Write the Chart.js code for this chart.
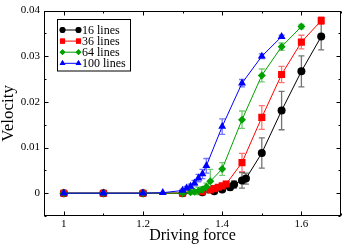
<!DOCTYPE html>
<html><head><meta charset="utf-8">
<script src="https://cdn.jsdelivr.net/npm/chart.js@4/dist/chart.umd.min.js"></script>
<style>html,body{margin:0;padding:0;background:#fff}</style>
</head><body><canvas id="c" width="346" height="247"></canvas>
<script>
// ---- data ----
const seriesNames = ['16 lines', '36 lines', '64 lines', '100 lines'];

const force16    = [1.0, 1.1, 1.2, 1.3, 1.35, 1.38, 1.40, 1.42, 1.43, 1.45, 1.46, 1.50, 1.55, 1.60, 1.65];
const velocity16 = [0, 0, 0, 0, 0.0002, 0.0004, 0.0008, 0.0013, 0.0019, 0.0028, 0.0032, 0.0088, 0.0181, 0.0267, 0.0343];
const error16    = [0, 0, 0, 0, 0.0002, 0.0003, 0.0004, 0.0006, 0.0008, 0.0017, 0.0012, 0.0033, 0.0042, 0.0034, 0.0029];

const force36    = [1.0, 1.1, 1.2, 1.3, 1.35, 1.37, 1.38, 1.39, 1.40, 1.41, 1.45, 1.50, 1.55, 1.60, 1.65];
const velocity36 = [0, 0, 0, 0, 0.0003, 0.0007, 0.0010, 0.0013, 0.0016, 0.0020, 0.0067, 0.0166, 0.0260, 0.0331, 0.0378];
const error36    = [0, 0, 0, 0, 0.0002, 0.0004, 0.0004, 0.0005, 0.0005, 0.0006, 0.0020, 0.0026, 0.0018, 0.0015, 0.0008];

const force64    = [1.0, 1.1, 1.2, 1.3, 1.32, 1.33, 1.34, 1.35, 1.36, 1.37, 1.40, 1.45, 1.50, 1.55, 1.60];
const velocity64 = [0, 0, 0, 0, 0.0002, 0.0003, 0.0005, 0.0008, 0.0014, 0.0026, 0.0053, 0.0161, 0.0258, 0.0321, 0.0365];
const error64    = [0, 0, 0, 0, 0.0003, 0.0005, 0.0008, 0.0006, 0.0008, 0.0026, 0.0014, 0.0019, 0.0014, 0.0008, 0.0005];

const force100    = [1.0, 1.1, 1.2, 1.25, 1.30, 1.31, 1.32, 1.33, 1.34, 1.35, 1.36, 1.40, 1.45, 1.50, 1.55];
const velocity100 = [0, 0, 0, 0.0001, 0.0006, 0.0011, 0.0015, 0.0022, 0.0033, 0.0042, 0.0060, 0.0146, 0.0241, 0.0300, 0.0343];
const error100    = [0, 0, 0, 0, 0.0003, 0.0004, 0.0005, 0.0006, 0.0008, 0.0010, 0.0016, 0.0017, 0.0008, 0.0005, 0.0003];

const xTickLabels = [1, 1.2, 1.4, 1.6];
const xMinorTicks = [1.1, 1.3, 1.5, 1.7];
const yTickLabels = [0, 0.01, 0.02, 0.03, 0.04];
const yMinorTicks = [-0.005, 0.005, 0.015, 0.025, 0.035];

// ---- styling ----
const SERIF = "'Liberation Serif', 'Times New Roman', serif";
const colors = ['#000000', '#ff0000', '#00a000', '#0000ff'];
const errColors = ['rgba(0,0,0,0.55)', 'rgba(255,0,0,0.55)', 'rgba(0,160,0,0.55)', 'rgba(0,0,255,0.55)'];
const shapes = ['circle', 'rect', 'rectRot', 'triangle'];
const radii = [4, 5, 4, 4.6];

const forces = [force16, force36, force64, force100];
const velocities = [velocity16, velocity36, velocity64, velocity100];
const errors = [error16, error36, error64, error100];

const datasets = seriesNames.map((name, i) => ({
  label: name,
  data: forces[i].map((f, j) => ({x: f, y: velocities[i][j]})),
  errors: errors[i],
  borderColor: colors[i],
  backgroundColor: colors[i],
  pointBackgroundColor: colors[i],
  pointBorderColor: colors[i],
  pointStyle: shapes[i],
  pointRadius: radii[i],
  pointBorderWidth: 0,
  borderWidth: 1,
  showLine: true,
  tension: 0,
  order: 4 - i,
  errColor: errColors[i]
}));

const errorBars = {
  id: 'errorBars',
  beforeDatasetsDraw(chart) {
    const {ctx, scales: {x, y}} = chart;
    ctx.save();
    chart.data.datasets.forEach((ds) => {
      ctx.strokeStyle = ds.errColor;
      ctx.lineWidth = 1.3;
      ds.data.forEach((p, j) => {
        const e = ds.errors[j];
        if (!e) return;
        const px = x.getPixelForValue(p.x);
        const top = y.getPixelForValue(p.y + e);
        const bot = y.getPixelForValue(p.y - e);
        ctx.beginPath();
        ctx.moveTo(px, top); ctx.lineTo(px, bot);
        ctx.moveTo(px - 3, top); ctx.lineTo(px + 3, top);
        ctx.moveTo(px - 3, bot); ctx.lineTo(px + 3, bot);
        ctx.stroke();
      });
    });
    ctx.restore();
  }
};

const frameTicks = {
  id: 'frameTicks',
  afterDraw(chart) {
    const {ctx, chartArea: a, scales: {x, y}} = chart;
    ctx.save();
    ctx.strokeStyle = '#000';
    ctx.lineWidth = 1;
    const L = Math.round(a.left) + 0.5, R = Math.round(a.right) - 0.5;
    const T = Math.round(a.top) + 0.5, B = Math.round(a.bottom) - 0.5;
    ctx.strokeRect(L, T, R - L, B - T);
    ctx.beginPath();
    const xt = (v, len) => {
      const px = Math.round(x.getPixelForValue(v)) + 0.5;
      ctx.moveTo(px, B); ctx.lineTo(px, B - len);
      ctx.moveTo(px, T); ctx.lineTo(px, T + len);
    };
    const yt = (v, len) => {
      const py = Math.round(y.getPixelForValue(v)) + 0.5;
      ctx.moveTo(L, py); ctx.lineTo(L + len, py);
      ctx.moveTo(R, py); ctx.lineTo(R - len, py);
    };
    xTickLabels.forEach(v => xt(v, 4));
    xMinorTicks.forEach(v => xt(v, 2));
    yTickLabels.forEach(v => yt(v, 4));
    yMinorTicks.forEach(v => yt(v, 2));
    ctx.stroke();
    ctx.restore();
  }
};

const insetLegend = {
  id: 'insetLegend',
  afterDraw(chart) {
    const {ctx} = chart;
    ctx.save();
    ctx.strokeStyle = '#000';
    ctx.lineWidth = 1;
    ctx.strokeRect(57.5, 19.5, 73, 51.5);
    ctx.font = '12px ' + SERIF;
    ctx.textBaseline = 'middle';
    ctx.textAlign = 'left';
    chart.data.datasets.forEach((ds, i) => {
      const cy = 30 + i * 11.1;
      ctx.strokeStyle = ds.borderColor;
      ctx.beginPath();
      ctx.moveTo(62.5, cy); ctx.lineTo(78.5, cy);
      ctx.stroke();
      ctx.fillStyle = ds.borderColor;
      const opts = {pointStyle: ds.pointStyle, radius: ds.pointRadius * 0.72, borderWidth: 0};
      Chart.helpers.drawPoint(ctx, opts, 62.5, cy);
      ctx.fill();
      Chart.helpers.drawPoint(ctx, opts, 78.5, cy);
      ctx.fill();
      ctx.fillStyle = '#000';
      ctx.fillText(ds.label, 82, cy + 0.5);
    });
    ctx.restore();
  }
};

new Chart(document.getElementById('c'), {
  type: 'scatter',
  data: {datasets},
  options: {
    responsive: false,
    animation: false,
    events: [],
    layout: {padding: {left: 0, right: 4, top: 5, bottom: 0}},
    plugins: {legend: {display: false}, tooltip: {enabled: false}},
    scales: {
      x: {
        type: 'linear', min: 0.95, max: 1.7,
        afterBuildTicks: s => { s.ticks = xTickLabels.map(v => ({value: v})); },
        afterFit: s => { s.height = 31; },
        grid: {display: false, drawTicks: false},
        border: {display: false},
        ticks: {color: '#000', font: {family: SERIF, size: 11}, padding: 2, maxRotation: 0,
                callback: v => String(v)},
        title: {display: true, text: 'Driving force', color: '#000',
                font: {family: SERIF, size: 16, lineHeight: 1}, padding: {top: 0, bottom: 3.4}}
      },
      y: {
        type: 'linear', min: -0.005, max: 0.04,
        afterBuildTicks: s => { s.ticks = yTickLabels.map(v => ({value: v})); },
        afterFit: s => { s.width = 44; },
        grid: {display: false, drawTicks: false},
        border: {display: false},
        ticks: {color: '#000', font: {family: SERIF, size: 11}, padding: 4,
                callback: v => String(v)},
        title: {display: true, text: 'Velocity', color: '#000',
                font: {family: SERIF, size: 17, lineHeight: 1}, padding: {top: 0.5, bottom: 0}}
      }
    }
  },
  plugins: [errorBars, frameTicks, insetLegend]
});
</script>
</body></html>
